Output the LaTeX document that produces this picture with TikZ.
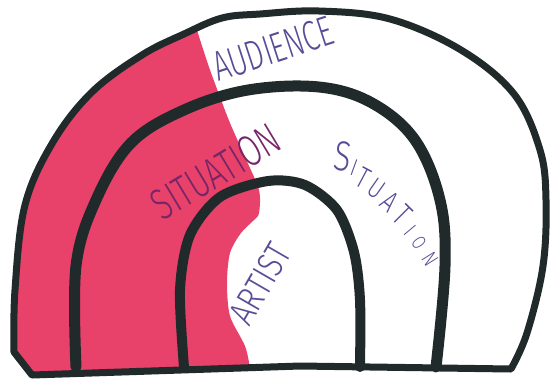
\documentclass[tikz,border=0pt]{standalone}
\usepackage{fontspec}
\newfontfamily\handfont{Fira Sans Light}
\usetikzlibrary{positioning}
\definecolor{inkline}{RGB}{33,42,42}
\definecolor{markerpink}{RGB}{232,66,107}
\definecolor{penink}{RGB}{88,76,150}
\definecolor{penonpink}{RGB}{118,38,104}
\newcommand{\audiencepath}{plot[smooth, tension=0.6] coordinates {(14,352) (15,290) (25,205) (53,142) (92,92) (142,55) (184,34) (222,18) (260,14) (319,11) (390,19) (461,50) (514,94) (540,150) (546,200) (543,266) (527,333) (511,369)} -- (300,366) -- (32,375) -- cycle}
\tikzstyle{ring} = [draw=inkline, line join=round, line cap=round]
\tikzstyle{outerring} = [ring, line width=7pt]
\tikzstyle{midring} = [ring, line width=11pt]
\tikzstyle{innerring} = [ring, line width=10pt]
\tikzstyle{penlabel} = [text=penink, inner sep=0pt, font=\handfont]
\begin{document}
\begin{tikzpicture}[x=1pt, y=-1pt]
		\useasboundingbox (0,0) rectangle (556,381);
		\begin{scope}
			\clip \audiencepath;
			\fill [markerpink] (0,0) -- (190,0) -- plot[smooth] coordinates {(192,10) (197,30) (209,67) (220,97) (230,123) (245,157) (259,190) (259,213) (254,220) (241,233) (230,253) (227,283) (230,316) (245,346) (250,368) (252,381)} -- (0,381) -- cycle;
		\end{scope}
		\draw [outerring] \audiencepath;
		\draw [midring] plot[smooth, tension=0.6] coordinates {(76,367) (76,266) (96,200) (131,143) (184,110) (248,90) (319,87) (372,103) (415,140) (440,200) (445,266) (436,367)};
		\draw [innerring] plot[smooth] coordinates {(184,367) (180,290) (190,235) (220,197) (268,181) (305,185) (337,210) (354,252) (360,300) (360,367)};
		\node (audience) [penlabel, rotate=18, xscale=0.68, font=\handfont\fontsize{42}{42}\selectfont] at (273,49) {AUDIENCE};
		\node (situationpink) [penlabel, text=penonpink, rotate=31, xscale=0.7, font=\handfont\fontsize{44}{44}\selectfont] at (216,172) {SITUATION};
		\node (artist) [penlabel, rotate=60, xscale=0.8, font=\handfont\fontsize{37}{37}\selectfont] at (260,284) {ARTIST};
		\foreach \ch/\px/\py/\ang/\sz [count=\i] in {S/343/156/-8/42, I/354/168/-20/24, T/363/178/-28/30, U/377/189/-35/28, A/390/202/-40/30, T/402/215/-45/32, I/410/230/-50/22, O/419/243/-55/20, N/430/259/-58/22}
			\node (sitletter\i) [penlabel, rotate=\ang, xscale=0.75, font=\handfont\fontsize{\sz}{\sz}\selectfont] at (\px,\py) {\ch};
\end{tikzpicture}
\end{document}
